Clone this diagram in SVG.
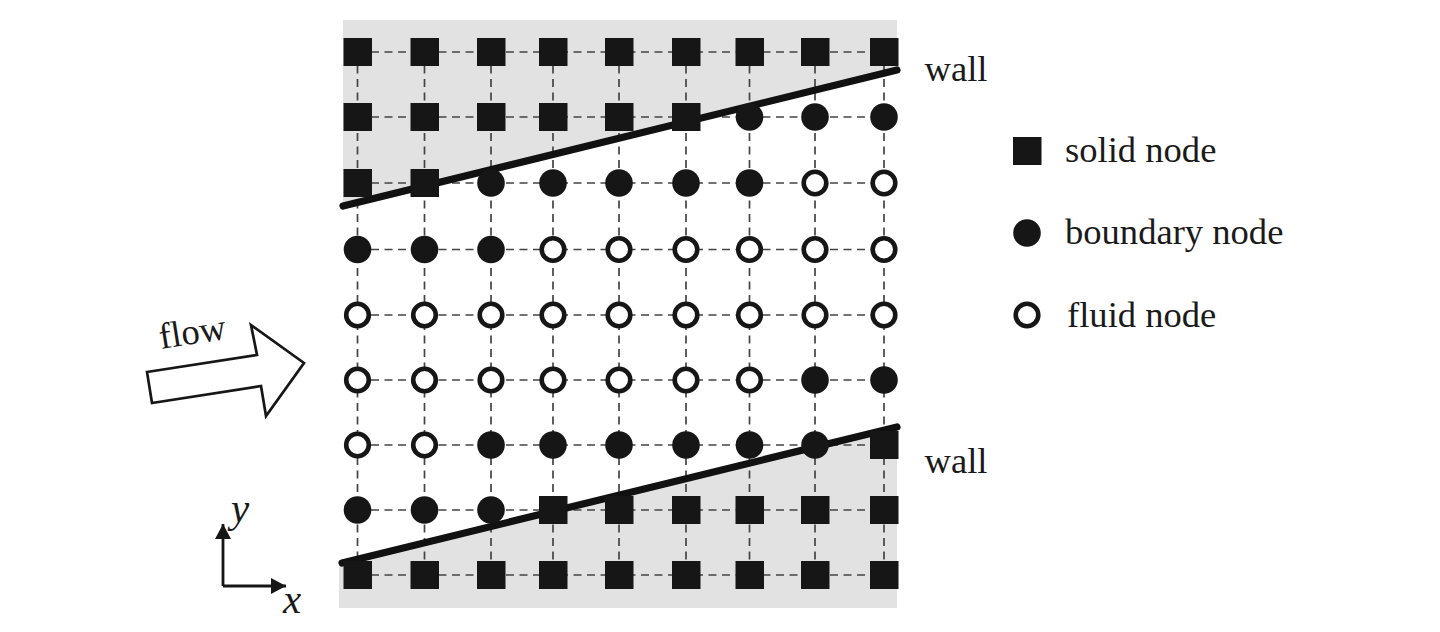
<svg xmlns="http://www.w3.org/2000/svg" width="1440" height="632" viewBox="0 0 1440 632">
<style>
.t{font-family:"Liberation Serif","Times New Roman",serif;font-size:36.6px;fill:#1a1a1a}
.i{font-style:italic;font-size:41px}
.g{fill:#e2e2e2}
.d{fill:none;stroke:#444;stroke-width:1.7;stroke-dasharray:8 5.5}
.w{fill:none;stroke:#111;stroke-width:7.2;stroke-linecap:round}
.s{fill:#161616;stroke:none}
.f{fill:#fff;stroke:#161616;stroke-width:4.6}
.a{fill:none;stroke:#161616;stroke-width:2.8}
</style>
<defs>
<rect id="S" class="s" x="-14" y="-14" width="28.500" height="28"/>
<circle id="B" class="s" r="13.800"/>
<circle id="F" class="f" r="11.300"/>
<marker id="ah" markerUnits="userSpaceOnUse" markerWidth="16" markerHeight="17" refX="15" refY="8.500" orient="auto"><path d="M0 0.500L15 8.500L0 16.500Z" fill="#161616"/></marker>
</defs>
<g id="shading">
<polygon class="g" points="343,20 897,20 897,70 343,205"/>
<polygon class="g" points="339,563 897,427 897,608 339,608"/>
</g>
<g id="connectors">
<path class="d" d="M357.5 52H884M357.5 117H884M357.5 183H884M357.5 249.500H884M357.500 315H884M357.500 380H884M357.500 445H884M357.500 510H884M357.500 575H884"/>
<path class="d" d="M357.500 52V575M424.500 52V575M491 52V575M553 52V575M619 52V575M686 52V575M749.500 52V575M815 52V575M884 52V575"/>
<path class="w" d="M343 206L897 70"/>
<path class="w" d="M342 563L897 427"/>
<path class="a" marker-end="url(#ah)" d="M223 586V524"/>
<path class="a" marker-end="url(#ah)" d="M223 586H286"/>
</g>
<g id="row0">
<g id="n00"><use href="#S" x="357.500" y="52"/></g><g id="n01"><use href="#S" x="424.500" y="52"/></g><g id="n02"><use href="#S" x="491" y="52"/></g><g id="n03"><use href="#S" x="553" y="52"/></g><g id="n04"><use href="#S" x="619" y="52"/></g><g id="n05"><use href="#S" x="686" y="52"/></g><g id="n06"><use href="#S" x="749.500" y="52"/></g><g id="n07"><use href="#S" x="815" y="52"/></g><g id="n08"><use href="#S" x="884" y="52"/></g>
</g>
<g id="row1">
<g id="n10"><use href="#S" x="357.500" y="117"/></g><g id="n11"><use href="#S" x="424.500" y="117"/></g><g id="n12"><use href="#S" x="491" y="117"/></g><g id="n13"><use href="#S" x="553" y="117"/></g><g id="n14"><use href="#S" x="619" y="117"/></g><g id="n15"><use href="#S" x="686" y="117"/></g><g id="n16"><use href="#B" x="749.500" y="117"/></g><g id="n17"><use href="#B" x="815" y="117"/></g><g id="n18"><use href="#B" x="884" y="117"/></g>
</g>
<g id="row2">
<g id="n20"><use href="#S" x="357.500" y="183"/></g><g id="n21"><use href="#S" x="424.500" y="183"/></g><g id="n22"><use href="#B" x="491" y="183"/></g><g id="n23"><use href="#B" x="553" y="183"/></g><g id="n24"><use href="#B" x="619" y="183"/></g><g id="n25"><use href="#B" x="686" y="183"/></g><g id="n26"><use href="#B" x="749.500" y="183"/></g><g id="n27"><use href="#F" x="815" y="183"/></g><g id="n28"><use href="#F" x="884" y="183"/></g>
</g>
<g id="row3">
<g id="n30"><use href="#B" x="357.500" y="249.500"/></g><g id="n31"><use href="#B" x="424.500" y="249.500"/></g><g id="n32"><use href="#B" x="491" y="249.500"/></g><g id="n33"><use href="#F" x="553" y="249.500"/></g><g id="n34"><use href="#F" x="619" y="249.500"/></g><g id="n35"><use href="#F" x="686" y="249.500"/></g><g id="n36"><use href="#F" x="749.500" y="249.500"/></g><g id="n37"><use href="#F" x="815" y="249.500"/></g><g id="n38"><use href="#F" x="884" y="249.500"/></g>
</g>
<g id="row4">
<g id="n40"><use href="#F" x="357.500" y="315"/></g><g id="n41"><use href="#F" x="424.500" y="315"/></g><g id="n42"><use href="#F" x="491" y="315"/></g><g id="n43"><use href="#F" x="553" y="315"/></g><g id="n44"><use href="#F" x="619" y="315"/></g><g id="n45"><use href="#F" x="686" y="315"/></g><g id="n46"><use href="#F" x="749.500" y="315"/></g><g id="n47"><use href="#F" x="815" y="315"/></g><g id="n48"><use href="#F" x="884" y="315"/></g>
</g>
<g id="row5">
<g id="n50"><use href="#F" x="357.500" y="380"/></g><g id="n51"><use href="#F" x="424.500" y="380"/></g><g id="n52"><use href="#F" x="491" y="380"/></g><g id="n53"><use href="#F" x="553" y="380"/></g><g id="n54"><use href="#F" x="619" y="380"/></g><g id="n55"><use href="#F" x="686" y="380"/></g><g id="n56"><use href="#F" x="749.500" y="380"/></g><g id="n57"><use href="#B" x="815" y="380"/></g><g id="n58"><use href="#B" x="884" y="380"/></g>
</g>
<g id="row6">
<g id="n60"><use href="#F" x="357.500" y="445"/></g><g id="n61"><use href="#F" x="424.500" y="445"/></g><g id="n62"><use href="#B" x="491" y="445"/></g><g id="n63"><use href="#B" x="553" y="445"/></g><g id="n64"><use href="#B" x="619" y="445"/></g><g id="n65"><use href="#B" x="686" y="445"/></g><g id="n66"><use href="#B" x="749.500" y="445"/></g><g id="n67"><use href="#B" x="815" y="445"/></g><g id="n68"><use href="#S" x="884" y="445"/></g>
</g>
<g id="row7">
<g id="n70"><use href="#B" x="357.500" y="510"/></g><g id="n71"><use href="#B" x="424.500" y="510"/></g><g id="n72"><use href="#B" x="491" y="510"/></g><g id="n73"><use href="#S" x="553" y="510"/></g><g id="n74"><use href="#S" x="619" y="510"/></g><g id="n75"><use href="#S" x="686" y="510"/></g><g id="n76"><use href="#S" x="749.500" y="510"/></g><g id="n77"><use href="#S" x="815" y="510"/></g><g id="n78"><use href="#S" x="884" y="510"/></g>
</g>
<g id="row8">
<g id="n80"><use href="#S" x="357.500" y="575"/></g><g id="n81"><use href="#S" x="424.500" y="575"/></g><g id="n82"><use href="#S" x="491" y="575"/></g><g id="n83"><use href="#S" x="553" y="575"/></g><g id="n84"><use href="#S" x="619" y="575"/></g><g id="n85"><use href="#S" x="686" y="575"/></g><g id="n86"><use href="#S" x="749.500" y="575"/></g><g id="n87"><use href="#S" x="815" y="575"/></g><g id="n88"><use href="#S" x="884" y="575"/></g>
</g>
<g id="flow-arrow">
<polygon points="147,372 257,355 251,325 304,363 266,416 261,386 152,403" fill="#fff" stroke="#161616" stroke-width="2.700" stroke-linejoin="miter"/>
<text class="t" transform="translate(161,349) rotate(-9)">flow</text>
</g>
<g id="labels">
<text class="t" x="924.500" y="81">wall</text>
<text class="t" x="924.500" y="473">wall</text>
<text class="t i" x="231" y="522">y</text>
<text class="t i" x="283" y="613">x</text>
</g>
<g id="legend-solid"><use href="#S" x="1027" y="151"/><text class="t" x="1065" y="162">solid node</text></g>
<g id="legend-boundary"><use href="#B" x="1027" y="233"/><text class="t" x="1065" y="244">boundary node</text></g>
<g id="legend-fluid"><use href="#F" x="1027" y="315"/><text class="t" x="1067" y="327">fluid node</text></g>
</svg>
